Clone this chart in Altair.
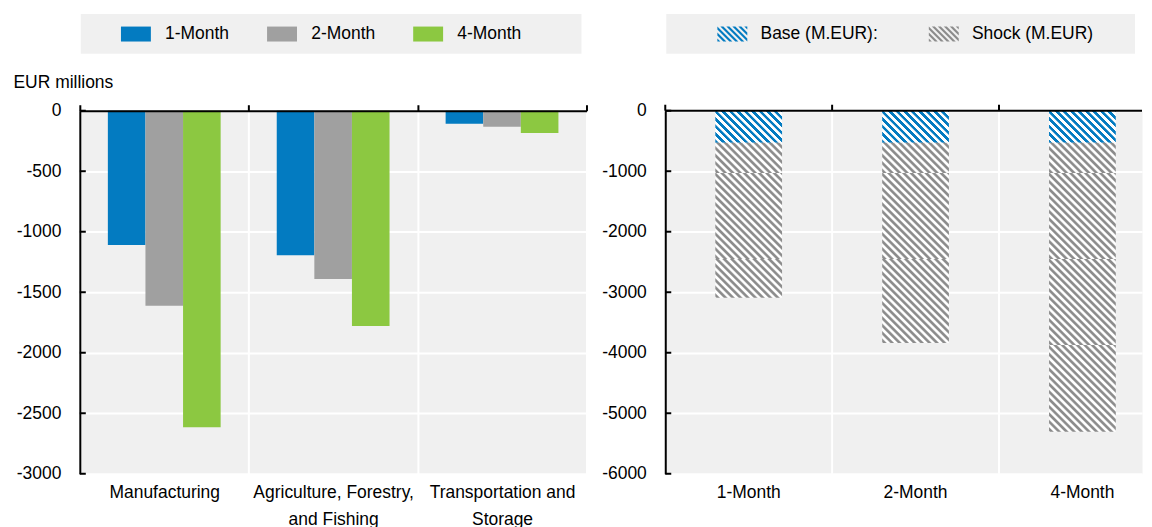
import json
import altair as alt
import pandas as pd

# ---------------- data ----------------
sectors = ["Manufacturing", "Agriculture, Forestry, and Fishing", "Transportation and Storage"]
sector_label_lines = [["Manufacturing"], ["Agriculture, Forestry,", "and Fishing"], ["Transportation and", "Storage"]]
horizons = ["1-Month", "2-Month", "4-Month"]
loss_1m = [-1110, -1195, -107]
loss_2m = [-1612, -1390, -132]
loss_4m = [-2615, -1778, -184]
left_ticks = [0, -500, -1000, -1500, -2000, -2500, -3000]

months = ["1-Month", "2-Month", "4-Month"]
series = ["Base (M.EUR):", "Shock (M.EUR)"]
base_values = [-530, -530, -530]
shock_1m = [-500, -1420, -640]
shock_2m = [-500, -1420, -1390]
shock_4m = [-500, -1420, -1420, -1435]
right_ticks = [0, -1000, -2000, -3000, -4000, -5000, -6000]

bar_colors = ["#037bc1", "#a0a0a0", "#8cc841"]
hatch_colors = ["#037bc1", "#8c8c8c"]

# ---------------- style / layout ----------------
FONT = "Liberation Sans"
FS = 17.5
BG = "#f0f0f0"
W_L, H = 508, 364
W_R_VIEW = 478
STEP_R = 167.3           # width of one month group on the right panel
R_PAD_INNER = 0.6
R_PAD_OUTER_VIS = 0.3    # visual outer margin of a bar inside its group (in steps)
PADCH = "\u2800"
NBSP = "\u00a0"

# band-scale parameters that reproduce a 167.3px step inside a 478px view
_po = (W_R_VIEW / STEP_R - (3 - R_PAD_INNER)) / 2
_align = (R_PAD_OUTER_VIS * STEP_R) / (W_R_VIEW - STEP_R * (3 - R_PAD_INNER))


def label_expr(names, lines):
    expr = "datum.label"
    for n, l in reversed(list(zip(names, lines))):
        expr = f"datum.label === {json.dumps(n)} ? {json.dumps(l)} : ({expr})"
    return expr


def y_axis(ticks, title=None):
    kw = dict(values=ticks, domain=True, domainColor="black", domainWidth=2,
              ticks=False, tickSize=0, labelPadding=19, labelExpr="datum.value + ''",
              labelFontSize=FS, labelColor="black", labelFont=FONT,
              grid=True, gridColor="white", gridWidth=2)
    if title:
        kw.update(title=title, titleAngle=0, titleAlign="left", titleBaseline="alphabetic",
                  titleX=-67, titleY=-23, titleFontSize=FS, titleFontWeight="normal",
                  titleColor="black", titleFont=FONT)
    else:
        kw.update(title=None)
    return alt.Axis(**kw)


def x_bottom(expr=None, grid=True):
    kw = dict(orient="bottom", title=None, domain=False, ticks=False, tickSize=0,
              labelAngle=0, labelPadding=10, labelFontSize=FS, labelColor="black",
              labelFont=FONT, labelLineHeight=27, labelBaseline="top", labelLimit=300,
              grid=grid)
    if grid:
        kw.update(gridColor="white", gridWidth=2, tickBand="extent")
    if expr:
        kw.update(labelExpr=expr)
    return alt.Axis(**kw)


x_top = alt.Axis(orient="top", title=None, labels=False, grid=False, domain=True,
                 domainColor="black", domainWidth=2, ticks=True, tickColor="black",
                 tickWidth=2, tickSize=6, tickBand="extent", zindex=1)


def tick_layer(ticks, yscale, yaxis):
    df = pd.DataFrame({"v": ticks})
    return alt.Chart(df).mark_rule(color="black", strokeWidth=2).encode(
        y=alt.Y("v:Q", scale=yscale, axis=yaxis), x=alt.value(0), x2=alt.value(6))


def clip(poly, a, b, d):
    out = []
    n = len(poly)
    for i in range(n):
        P = poly[i]
        Q = poly[(i + 1) % n]
        fp = a * P[0] + b * P[1] - d
        fq = a * Q[0] + b * Q[1] - d
        if fp <= 0:
            out.append(P)
        if (fp < 0 < fq) or (fq < 0 < fp):
            t = fp / (fp - fq)
            out.append((P[0] + t * (Q[0] - P[0]), P[1] + t * (Q[1] - P[1])))
    return out


def stripe_path(period=0.8, frac=0.5):
    rect = [(-2, -1), (2, -1), (2, 1), (-2, 1)]
    parts = []
    c = -3.0
    while c < 3:
        poly = clip(rect, -1, 1, -c)
        poly = clip(poly, 1, -1, c + period * frac)
        if len(poly) >= 3:
            parts.append("M" + "L".join(f"{x:.3f},{y:.3f}" for x, y in poly) + "Z")
        c += period
    return "".join(parts)


def hatch(color, w, h, period, soft):
    L = w + h
    du = w * (w + h) / (w * w + h * h)
    step = period / L
    if soft:
        pattern = [(0.0, "#ffffff"), (0.22, color), (0.5, color), (0.72, "#ffffff")]
    else:
        pattern = [(0.0, color), (0.44, color), (0.5, "#ffffff"), (0.94, "#ffffff")]
    stops = []
    k = 0
    while k * step <= 1:
        for f, c in pattern:
            off = k * step + f * step
            if off <= 1:
                stops.append(alt.GradientStop(offset=round(off, 5), color=c))
        k += 1
    return alt.LinearGradient(gradient="linear", stops=stops, x1=0, y1=1,
                              x2=round(du, 5), y2=round(1 - du * h / w, 5))


# ---------------- left panel ----------------
rows = []
for hz, vals in zip(horizons, [loss_1m, loss_2m, loss_4m]):
    for s, v in zip(sectors, vals):
        rows.append({"sector": s, "horizon": hz, "value": v})
left_df = pd.DataFrame(rows)

xs_l = alt.Scale(domain=sectors, paddingInner=0, paddingOuter=0)
ys_l = alt.Scale(domain=[-3000, 0], nice=False, zero=False)
ya_l = y_axis(left_ticks, "EUR millions")

rect_path = "M-2,-1H2V1H-2Z"
left_legend = alt.Legend(
    title=None, orient="none", legendX=1, legendY=-97, direction="horizontal",
    fillColor=BG, padding=11, symbolType=rect_path, symbolSize=225, symbolOffset=35.5,
    labelOffset=20.5, columnPadding=8.5, labelFontSize=FS, labelFont=FONT, labelColor="black",
    symbolStrokeWidth=0, labelLimit=400,
    labelExpr="datum.label === '4-Month' ? datum.label + '" + NBSP * 2 + PADCH * 3 + "' : datum.label")

left_bars = alt.Chart(left_df).mark_bar().encode(
    x=alt.X("sector:N", sort=sectors, scale=xs_l, axis=x_bottom(label_expr(sectors, sector_label_lines))),
    xOffset=alt.XOffset("horizon:N", sort=horizons,
                        scale=alt.Scale(domain=horizons, paddingInner=0, paddingOuter=0.746)),
    y=alt.Y("value:Q", scale=ys_l, axis=ya_l),
    color=alt.Color("horizon:N", sort=horizons, scale=alt.Scale(domain=horizons, range=bar_colors),
                    legend=left_legend),
)
left_top = alt.Chart(left_df).mark_bar(opacity=0).encode(
    x=alt.X("sector:N", sort=sectors, scale=xs_l, axis=x_top),
    y=alt.Y("value:Q", scale=ys_l, axis=ya_l),
)
left = alt.layer(alt.layer(left_bars, tick_layer(left_ticks, ys_l, ya_l)), left_top).resolve_axis(
    x="independent").properties(width=W_L, height=H)

# ---------------- right panel ----------------
shock_lists = [shock_1m, shock_2m, shock_4m]
seg_rows = []
tot_rows = []
for m, b, shocks in zip(months, base_values, shock_lists):
    start = 0
    for kind, v in [(series[0], b)] + [(series[1], s) for s in shocks]:
        seg_rows.append({"month": m, "series": kind, "start": start, "end": start + v, "value": v})
        start += v
    tot_rows.append({"month": m, "series": series[0], "start": 0, "end": b})
    tot_rows.append({"month": m, "series": series[1], "start": b, "end": b + sum(shocks)})

xs_r = alt.Scale(domain=months, paddingInner=R_PAD_INNER, paddingOuter=round(_po, 5), align=round(_align, 5))
ys_r = alt.Scale(domain=[-6000, 0], nice=False, zero=False)
ya_r = y_axis(right_ticks)
xb_r = x_bottom(grid=False)
band_w = STEP_R * (1 - R_PAD_INNER)
edge_shift = -R_PAD_OUTER_VIS * STEP_R

months_df = pd.DataFrame({"month": months})

grid_rules = alt.Chart(months_df.iloc[1:]).mark_rule(color="white", strokeWidth=2, xOffset=edge_shift).encode(
    x=alt.X("month:N", scale=xs_r, axis=xb_r, bandPosition=0))

seg_layers = []
for r in seg_rows:
    hpx = abs(r["value"]) * H / 6000
    kind_i = series.index(r["series"])
    grad = hatch(hatch_colors[kind_i], band_w, hpx, 7.5, soft=(kind_i == 1))
    seg_layers.append(
        alt.Chart(pd.DataFrame([r])).mark_bar(fill=grad).encode(
            x=alt.X("month:N", scale=xs_r, axis=xb_r),
            y=alt.Y("start:Q", scale=ys_r, axis=ya_r),
            y2="end:Q",
        )
    )

top_line = alt.Chart(pd.DataFrame({"v": right_ticks[:1]})).mark_rule(color="black", strokeWidth=2).encode(
    y=alt.Y("v:Q", scale=ys_r, axis=ya_r))
top_ticks = alt.Chart(months_df).mark_rule(color="black", strokeWidth=2, xOffset=edge_shift).encode(
    x=alt.X("month:N", scale=xs_r, axis=xb_r, bandPosition=0), y=alt.value(-6), y2=alt.value(0))

right_legend = alt.Legend(
    title=None, orient="none", legendX=1, legendY=-97, direction="horizontal",
    fillColor=BG, padding=11, symbolType=stripe_path(), symbolSize=225, symbolOffset=46.5,
    labelOffset=19.5, columnPadding=10, labelFontSize=FS, labelFont=FONT, labelColor="black",
    symbolStrokeWidth=0, labelLimit=400,
    labelExpr="datum.label === 'Shock (M.EUR)' ? datum.label + '" + NBSP + PADCH * 2 + "' : datum.label")

right_legend_layer = alt.Chart(pd.DataFrame(tot_rows)).mark_bar().encode(
    x=alt.X("month:N", scale=xs_r, axis=xb_r),
    y=alt.Y("end:Q", scale=ys_r, axis=ya_r),
    y2="end:Q",
    color=alt.Color("series:N", scale=alt.Scale(domain=series, range=hatch_colors), legend=right_legend),
)
right = alt.layer(grid_rules, *seg_layers, tick_layer(right_ticks, ys_r, ya_r), top_line, top_ticks,
                  right_legend_layer).properties(width=W_R_VIEW, height=H)

chart = alt.hconcat(left, right, spacing=12).resolve_scale(color="independent").properties(
    padding={"left": 4, "top": 4, "right": 0, "bottom": 0}
).configure(font=FONT).configure_view(fill=BG, stroke="transparent")

chart.save("out.html", embed_options={"renderer": "svg", "actions": False})
